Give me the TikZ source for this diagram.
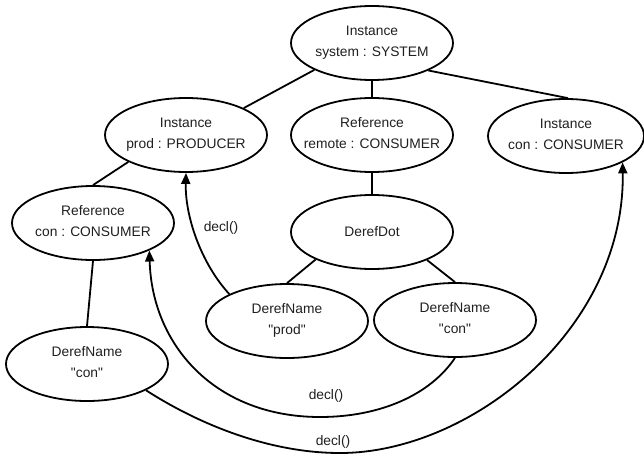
\documentclass[tikz,border=0pt]{standalone}
\usepackage{fontspec}
\setmainfont{Liberation Sans}[Ligatures=TeXOff]
\usetikzlibrary{shapes.geometric,arrows.meta}
% two centred lines that do not widen the ellipse around them
\newcommand{\twoline}[2]{\makebox[0pt]{\begin{tabular}{@{}c@{}}#1\\[4pt]#2\end{tabular}}}
\newcommand{\oneline}[1]{\makebox[0pt]{#1}}
\begin{document}
\begin{tikzpicture}[x=1pt,y=-1pt,
  every node/.style={font=\fontsize{13.8}{17}\selectfont, text=black!88},
  ellnode/.style={ellipse, draw=black, line width=1.8pt, inner sep=0pt,
    minimum width=162pt, minimum height=74pt},
  tree/.style={draw=black, line width=1.8pt},
  declarrow/.style={draw=black, line width=1.8pt,
    -{Triangle[length=11pt,width=9pt]}},
  lbl/.style={inner sep=1pt}]
\useasboundingbox (0,0) rectangle (644,455);

% nodes of the tree
\node[ellnode] (sys)    at (372,43)  {\twoline{Instance}{system : SYSTEM}};
\node[ellnode] (prod)   at (186,135) {\twoline{Instance}{prod : PRODUCER}};
\node[ellnode] (remote) at (372,135) {\twoline{Reference}{remote : CONSUMER}};
\node[ellnode, minimum width=156pt] (con) at (566,136) {\twoline{Instance}{con : CONSUMER}};
\node[ellnode] (refcon) at (93,223)  {\twoline{Reference}{con : CONSUMER}};
\node[ellnode] (dot)    at (372,232) {\oneline{DerefDot}};
\node[ellnode] (dnprod) at (287,321) {\twoline{DerefName}{"prod"}};
\node[ellnode] (dncon)  at (455,320) {\twoline{DerefName}{"con"}};
\node[ellnode] (dnleft) at (87,364)  {\twoline{DerefName}{"con"}};

% tree edges
\draw[tree] (sys.205) -- (prod.25);
\draw[tree] (sys.south) -- (remote.north);
\draw[tree] (sys.-26) -- (con.87);
\draw[tree] (prod.205) -- (refcon.north);
\draw[tree] (remote.south) -- (dot.north);
\draw[tree] (dot.206) -- (dnprod.north);
\draw[tree] (dot.-27) -- (dncon.north);
\draw[tree] (refcon.south) -- (dnleft.north);

% declaration links
\draw[declarrow] (dnprod.155) .. controls (200,262) and (185,215) .. (prod.south);
\draw[declarrow] (dncon.south) .. controls (430,395) and (380,417) .. (320,417)
  .. controls (215,417) and (152,345) .. (refcon.-26);
\draw[declarrow] (dnleft.-24) .. controls (200,425) and (270,453) .. (340,453)
  .. controls (470,453) and (625,330) .. (con.-25);

% link labels
\node[lbl] (d1) at (221,228) {decl()};
\node[lbl] (d2) at (326,396) {decl()};
\node[lbl] (d3) at (333,442) {decl()};
\end{tikzpicture}
\end{document}
